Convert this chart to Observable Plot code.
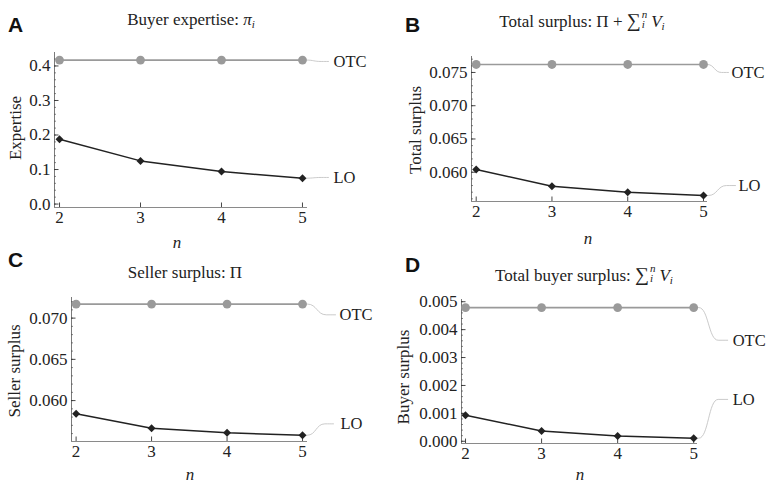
<!DOCTYPE html>
<html><head><meta charset="utf-8">
<script src="https://cdn.jsdelivr.net/npm/d3@7"></script>
<script src="https://cdn.jsdelivr.net/npm/@observablehq/plot@0.6"></script>
<style>
body{margin:0;background:#fff;}
#root{position:relative;width:771px;height:483px;overflow:hidden;font-family:"Liberation Serif",serif;color:#222;background:#fff;}
#root svg, #root svg text, #root svg g{font-family:"Liberation Serif",serif !important;}
.t{position:absolute;white-space:nowrap;line-height:1;}
.title{font-size:17px;transform:translateX(-50%);}
.letter{font-family:"Liberation Sans",Arial,sans-serif;font-weight:bold;font-size:21px;color:#111;}
.ylab{font-size:17px;transform:translate(-50%,-50%) rotate(-90deg);}
.xlab{font-size:17px;font-style:italic;transform:translate(-50%,-50%);}
.ss{display:inline-block;position:relative;width:0.5em;height:1em;vertical-align:baseline;margin:0 1px 0 1px;}
.ss .sp{position:absolute;left:0;top:-0.05em;font-size:0.65em;font-style:italic;line-height:1;}
.ss .sb{position:absolute;left:0;bottom:-0.3em;font-size:0.65em;font-style:italic;line-height:1;}
sub{font-size:0.65em;vertical-align:-0.3em;line-height:0;}
.sum{font-size:1.15em;}
.panel{position:absolute;}
</style></head><body><div id="root"></div>
<script>
// ---- data ----
const n = [2, 3, 4, 5];
const otcExpertise = [0.417, 0.417, 0.417, 0.417];
const loExpertise = [0.1875, 0.125, 0.094, 0.075];
const otcTotal = [0.0762, 0.0762, 0.0762, 0.0762];
const loTotal = [0.0604, 0.0579, 0.0570, 0.0565];
const otcSeller = [0.0717, 0.0717, 0.0717, 0.0717];
const loSeller = [0.0584, 0.05665, 0.0561, 0.0558];
const otcBuyer = [0.00479, 0.00479, 0.00479, 0.00479];
const loBuyer = [0.00093, 0.00037, 0.00019, 0.00011];
const seriesNames = ["OTC", "LO"];
const ticksExpertise = [0, 0.1, 0.2, 0.3, 0.4];
const ticksTotal = [0.060, 0.065, 0.070, 0.075];
const ticksSeller = [0.060, 0.065, 0.070];
const ticksBuyer = [0, 0.001, 0.002, 0.003, 0.004, 0.005];

const sumHTML = '<span class="sum">∑</span><span class="ss"><span class="sp">n</span><span class="sb">i</span></span><i>V</i><sub><i>i</i></sub>';

const panels = [
  {letter:"A", left:0, top:0, width:385, height:240, mL:54, mR:78, mT:52, mB:33,
   xDomain:[1.938, 5.062], yDomain:[-0.010, 0.439], majors:ticksExpertise, minorStep:0.02, fmt:d3.format(".1f"),
   lo:loExpertise, otc:otcExpertise,
   call:{otc:{y:0.413, end:26, text:31}, lo:{y:0.077, end:26, text:31}},
   title:'Buyer expertise: <i>π</i><sub><i>i</i></sub>', titleX:191, titleBase:25, letterX:8, letterBase:32,
   ylabel:"Expertise", ylabX:15, ylabY:128, nX:177, nY:242},
  {letter:"B", left:385, top:0, width:386, height:240, mL:86, mR:64, mT:56, mB:39,
   xDomain:[1.938, 5.053], yDomain:[0.0556, 0.0774], majors:ticksTotal, minorStep:0.001, fmt:d3.format(".3f"),
   lo:loTotal, otc:otcTotal,
   call:{otc:{y:0.0750, end:25, text:28}, lo:{y:0.0580, end:32, text:35}},
   title:'Total surplus: Π + ' + sumHTML, titleX:582, titleBase:24, letterX:405, letterBase:32,
   ylabel:"Total surplus", ylabX:415, ylabY:130, nX:588, nY:238},
  {letter:"C", left:0, top:240, width:385, height:243, mL:71, mR:78, mT:57, mB:42,
   xDomain:[1.939, 5.066], yDomain:[0.05504, 0.0725], majors:ticksSeller, minorStep:0.001, fmt:d3.format(".3f"),
   lo:loSeller, otc:otcSeller,
   call:{otc:{y:0.0704, end:33, text:37}, lo:{y:0.05718, end:31, text:38}},
   title:'Seller surplus: Π', titleX:185, titleBase:278, letterX:8, letterBase:267,
   ylabel:"Seller surplus", ylabX:14, ylabY:371, nX:190, nY:474},
  {letter:"D", left:385, top:240, width:386, height:243, mL:76, mR:74, mT:59, mB:40,
   xDomain:[1.947, 5.05], yDomain:[-0.00008, 0.00508], majors:ticksBuyer, minorStep:0.0002, fmt:d3.format(".3f"),
   lo:loBuyer, otc:otcBuyer,
   call:{otc:{y:0.00362, end:34, text:39}, lo:{y:0.0015, end:34, text:39}},
   title:'Total buyer surplus: ' + sumHTML, titleX:584, titleBase:278, letterX:405, letterBase:272,
   ylabel:"Buyer surplus", ylabX:403, ylabY:377, nX:580, nY:474}
];

const root = document.getElementById("root");
function addText(cls, html, x, y) {
  const d = document.createElement("div");
  d.className = "t " + cls;
  d.innerHTML = html;
  d.style.left = x + "px";
  d.style.top = y + "px";
  root.appendChild(d);
  return d;
}

function makePlot(p) {
  const [x0, x1] = p.xDomain, [y0, y1] = p.yDomain;
  const kx = (p.width - p.mL - p.mR) / (x1 - x0);
  const ky = (p.height - p.mT - p.mB) / (y1 - y0);
  const last = n[n.length - 1];
  const rows = (vals) => n.map((d, i) => ({n: d, v: vals[i]}));
  const conn = (v, c) => [0, 0.15, 0.72, 1].map((f, j) => ({x: last + f * c.end / kx, y: j < 2 ? v : c.y}));
  const labels = [
    {x: last + p.call.otc.text / kx, y: p.call.otc.y, t: seriesNames[0]},
    {x: last + p.call.lo.text / kx, y: p.call.lo.y, t: seriesNames[1]}
  ];
  const minors = d3.range(Math.ceil(y0 / p.minorStep - 1e-9), Math.floor(y1 / p.minorStep + 1e-9) + 1).map(k => k * p.minorStep);
  return Plot.plot({
    width: p.width, height: p.height,
    marginLeft: p.mL, marginRight: p.mR, marginTop: p.mT, marginBottom: p.mB,
    x: {domain: p.xDomain}, y: {domain: p.yDomain},
    style: "font-family: 'Liberation Serif', serif; font-size: 17px; color: #222; background: transparent;",
    marks: [
      Plot.line(conn(p.otc[p.otc.length - 1], p.call.otc), {x: "x", y: "y", curve: "bump-x", stroke: "#c4c4c4", strokeWidth: 0.9}),
      Plot.line(conn(p.lo[p.lo.length - 1], p.call.lo), {x: "x", y: "y", curve: "bump-x", stroke: "#c4c4c4", strokeWidth: 0.9}),
      Plot.ruleX([x0], {y1: () => y0, y2: () => y1, stroke: "#7a7a7a", strokeWidth: 1}),
      Plot.ruleY([y0], {x1: () => x0, x2: () => x1, stroke: "#8a8a8a", strokeWidth: 1.2}),
      Plot.ruleY(minors, {y: d => d, x1: () => x0, x2: () => x0 + 2 / kx, stroke: "#555", strokeWidth: 0.7}),
      Plot.ruleY(p.majors, {y: d => d, x1: () => x0, x2: () => x0 + 4.5 / kx, stroke: "#333", strokeWidth: 0.9}),
      Plot.ruleX(n, {x: d => d, y1: () => y0, y2: () => y0 + 4.5 / ky, stroke: "#333", strokeWidth: 0.9}),
      Plot.axisY({ticks: p.majors, tickFormat: p.fmt, tickSize: 0, tickPadding: 4, label: null, fontSize: 17, fontFamily: "Liberation Serif", fontVariant: "normal"}),
      Plot.axisX({ticks: n, tickFormat: d3.format("d"), tickSize: 0, tickPadding: 3, label: null, fontSize: 17, fontFamily: "Liberation Serif", fontVariant: "normal"}),
      Plot.line(rows(p.otc), {x: "n", y: "v", stroke: "#9a9a9a", strokeWidth: 1.6}),
      Plot.dot(rows(p.otc), {x: "n", y: "v", r: 4.4, fill: "#9a9a9a", stroke: "none"}),
      Plot.line(rows(p.lo), {x: "n", y: "v", stroke: "#222", strokeWidth: 1.5}),
      Plot.dot(rows(p.lo), {x: "n", y: "v", symbol: "diamond2", r: 3.6, fill: "#222", stroke: "none"}),
      Plot.text(labels, {x: "x", y: "y", text: "t", textAnchor: "start", fontSize: 16.5, fontFamily: "Liberation Serif", fill: "#222"})
    ]
  });
}

for (const p of panels) {
  const holder = document.createElement("div");
  holder.className = "panel";
  holder.style.left = p.left + "px";
  holder.style.top = p.top + "px";
  holder.appendChild(makePlot(p));
  root.appendChild(holder);
  addText("title", p.title, p.titleX, p.titleBase - 0.8375 * 17);
  addText("letter", p.letter, p.letterX, p.letterBase - 0.8465 * 21);
  addText("ylab", p.ylabel, p.ylabX, p.ylabY);
  addText("xlab", "n", p.nX, p.nY);
}
</script></body></html>
